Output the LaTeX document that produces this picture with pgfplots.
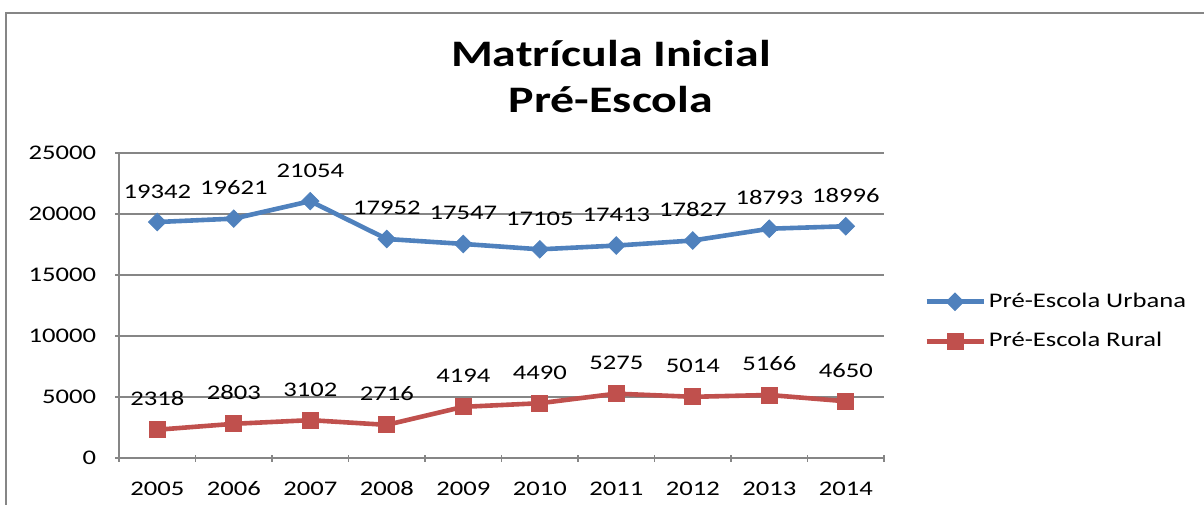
\documentclass[border=0pt]{standalone}
\usepackage{fontspec}
\setmainfont{Carlito}[FakeStretch=1.28]
\usepackage{pgfplots}
\pgfplotsset{compat=1.18}
\definecolor{urbblue}{HTML}{4F81BD}
\definecolor{rurred}{HTML}{C0504D}
\definecolor{gridgray}{HTML}{868686}

\begin{document}
\begin{tikzpicture}
  \begin{axis}[
      scale only axis,
      width=382.5pt, height=152.5pt,
      xmin=-0.5, xmax=9.5,
      ymin=0, ymax=25000,
      xtick={0,...,9},
      xticklabels={2005,2006,2007,2008,2009,2010,2011,2012,2013,2014},
      minor xtick={-0.5,0.5,...,9.5},
      major x tick style={draw=none},
      minor tick length=3.5pt,
      major tick length=3.5pt,
      tick align=outside,
      ytick={0,5000,...,25000},
      scaled y ticks=false,
      axis x line=bottom, axis y line=left,
      axis line style={-, gridgray, line width=0.6pt},
      tick style={gridgray, line width=0.6pt},
      ymajorgrids, grid style={gridgray, line width=0.6pt},
      /pgf/number format/1000 sep={},
      /pgf/number format/assume math mode=true,
      tick label style={font=\fontsize{10.4}{12}\selectfont},
      xticklabel style={yshift=-6.5pt},
      yticklabel style={anchor=east, inner sep=0pt, xshift=-9.5pt},
      nodes near coords,
      every node near coord/.append style={font=\fontsize{10.4}{12}\selectfont,
        anchor=base, yshift=12pt, inner sep=0pt, text=black},
      legend style={at={(1.052,0.4475)}, anchor=west, draw=none, fill=none,
        font=\fontsize{10.4}{12}\selectfont, row sep=8pt, inner sep=0pt,
        nodes={inner sep=1.5pt}},
      legend cell align=left,
      legend image code/.code={%
        \draw[mark repeat=2, mark phase=2, #1]
          plot coordinates {(0pt,0pt) (14.25pt,0pt) (28.5pt,0pt)};},
      clip=false,
    ]
    \addplot[color=urbblue, line width=2.3pt, mark=square*,
      mark options={solid, rotate=45, line width=0.4pt}, mark size=3.1pt]
      coordinates {
        (0,19342) (1,19621) (2,21054) (3,17952) (4,17547)
        (5,17105) (6,17413) (7,17827) (8,18793) (9,18996)
      };
    \addlegendentry{Pré-Escola Urbana}
    \addplot[color=rurred, line width=2.3pt, mark=square*,
      mark options={solid, line width=0.4pt}, mark size=4pt]
      coordinates {
        (0,2318) (1,2803) (2,3102) (3,2716) (4,4194)
        (5,4490) (6,5275) (7,5014) (8,5166) (9,4650)
      };
    \addlegendentry{Pré-Escola Rural}
  \end{axis}
  % title
  \node[anchor=base, font=\fontsize{18.7}{22}\selectfont\bfseries]
    at (246pt,195.5pt) {Matrícula Inicial};
  \node[anchor=base, font=\fontsize{18.7}{22}\selectfont\bfseries]
    at (246pt,172.5pt) {Pré-Escola};
  % chart frame
  \draw[gridgray, line width=1.2pt] (-56.5pt,-40pt) -- (-56.5pt,222.5pt) -- (580pt,222.5pt);
  \pgfresetboundingbox
  \useasboundingbox (-59.5pt,-23pt) rectangle (542.5pt,229pt);
\end{tikzpicture}
\end{document}
